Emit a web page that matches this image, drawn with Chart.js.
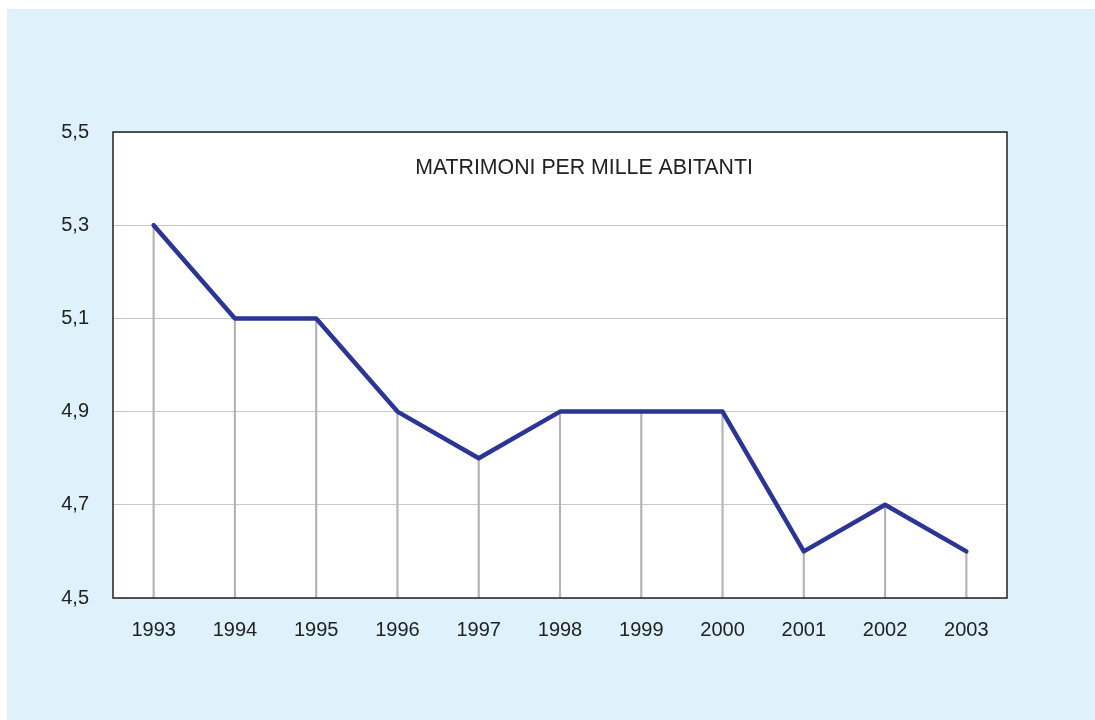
<!DOCTYPE html>
<html lang="it">
<head>
    <meta charset="UTF-8">
    <title>Matrimoni per mille abitanti</title>
    <script src="https://cdn.jsdelivr.net/npm/chart.js"></script>
    <style>
        body {
            margin: 0;
            background: #ffffff;
            font-family: "Liberation Sans", Arial, sans-serif;
        }
        .panel {
            position: absolute;
            left: 7px;
            top: 9px;
            width: 1088px;
            height: 711px;
            background-color: #dff1fb;
        }
    </style>
</head>
<body>
    <div class="panel">
        <canvas id="myChart" width="1088" height="711"></canvas>
    </div>

    <script>
        // dati
        const anni = ['1993', '1994', '1995', '1996', '1997', '1998', '1999', '2000', '2001', '2002', '2003'];
        const matrimoni = [5.3, 5.1, 5.1, 4.9, 4.8, 4.9, 4.9, 4.9, 4.6, 4.7, 4.6];
        const yTicks = [4.5, 4.7, 4.9, 5.1, 5.3, 5.5];
        const titolo = 'MATRIMONI PER MILLE ABITANTI';

        // titolo scritto dentro l'area del grafico
        const titoloPlugin = {
            id: 'titoloInterno',
            afterDraw(chart) {
                const { ctx, chartArea } = chart;
                ctx.save();
                ctx.font = '21.3px "Liberation Sans", Arial, sans-serif';
                ctx.fillStyle = '#222222';
                ctx.textAlign = 'center';
                ctx.textBaseline = 'middle';
                ctx.fillText(titolo, chartArea.left + 471, chartArea.top + 36);
                ctx.restore();
            }
        };

        // sfondo bianco dell'area e cornice
        const cornicePlugin = {
            id: 'cornice',
            beforeDraw(chart) {
                const { ctx, chartArea: a } = chart;
                ctx.save();
                ctx.fillStyle = '#ffffff';
                ctx.fillRect(a.left, a.top, a.right - a.left, a.bottom - a.top);
                ctx.restore();
            },
            afterDatasetsDraw(chart) {
                const { ctx, chartArea: a } = chart;
                ctx.save();
                ctx.strokeStyle = '#222222';
                ctx.lineWidth = 1.5;
                ctx.strokeRect(a.left, a.top, a.right - a.left, a.bottom - a.top);
                ctx.restore();
            }
        };

        const ctx = document.getElementById('myChart').getContext('2d');
        const myChart = new Chart(ctx, {
            data: {
                labels: anni,
                datasets: [{
                    type: 'line',
                    data: matrimoni,
                    borderColor: '#2b3595',
                    borderWidth: 4.5,
                    borderCapStyle: 'round',
                    borderJoinStyle: 'round',
                    pointRadius: 0,
                    tension: 0,
                    order: 1
                }, {
                    // linee verticali dal punto all'asse
                    type: 'bar',
                    data: matrimoni,
                    backgroundColor: '#b4b4b4',
                    barThickness: 1.5,
                    order: 2
                }]
            },
            options: {
                responsive: false,
                animation: false,
                layout: {
                    padding: { left: 0, top: 123, right: 88, bottom: 0 }
                },
                plugins: {
                    legend: { display: false },
                    tooltip: { enabled: false }
                },
                scales: {
                    x: {
                        offset: true,
                        grid: { display: false, drawTicks: false },
                        border: { display: false },
                        ticks: {
                            color: '#222222',
                            padding: 20,
                            maxRotation: 0,
                            font: { size: 20, family: '"Liberation Sans", Arial, sans-serif' }
                        },
                        afterFit(scale) { scale.height = 122; }
                    },
                    y: {
                        min: 4.5,
                        max: 5.5,
                        afterBuildTicks(scale) {
                            scale.ticks = yTicks.map(v => ({ value: v }));
                        },
                        grid: { color: '#c8c8c8', lineWidth: 1, drawTicks: false },
                        border: { display: false },
                        ticks: {
                            color: '#222222',
                            padding: 24,
                            font: { size: 20, family: '"Liberation Sans", Arial, sans-serif' },
                            callback: v => v.toFixed(1).replace('.', ',')
                        },
                        afterFit(scale) { scale.width = 106; }
                    }
                }
            },
            plugins: [cornicePlugin, titoloPlugin]
        });
    </script>
</body>
</html>
